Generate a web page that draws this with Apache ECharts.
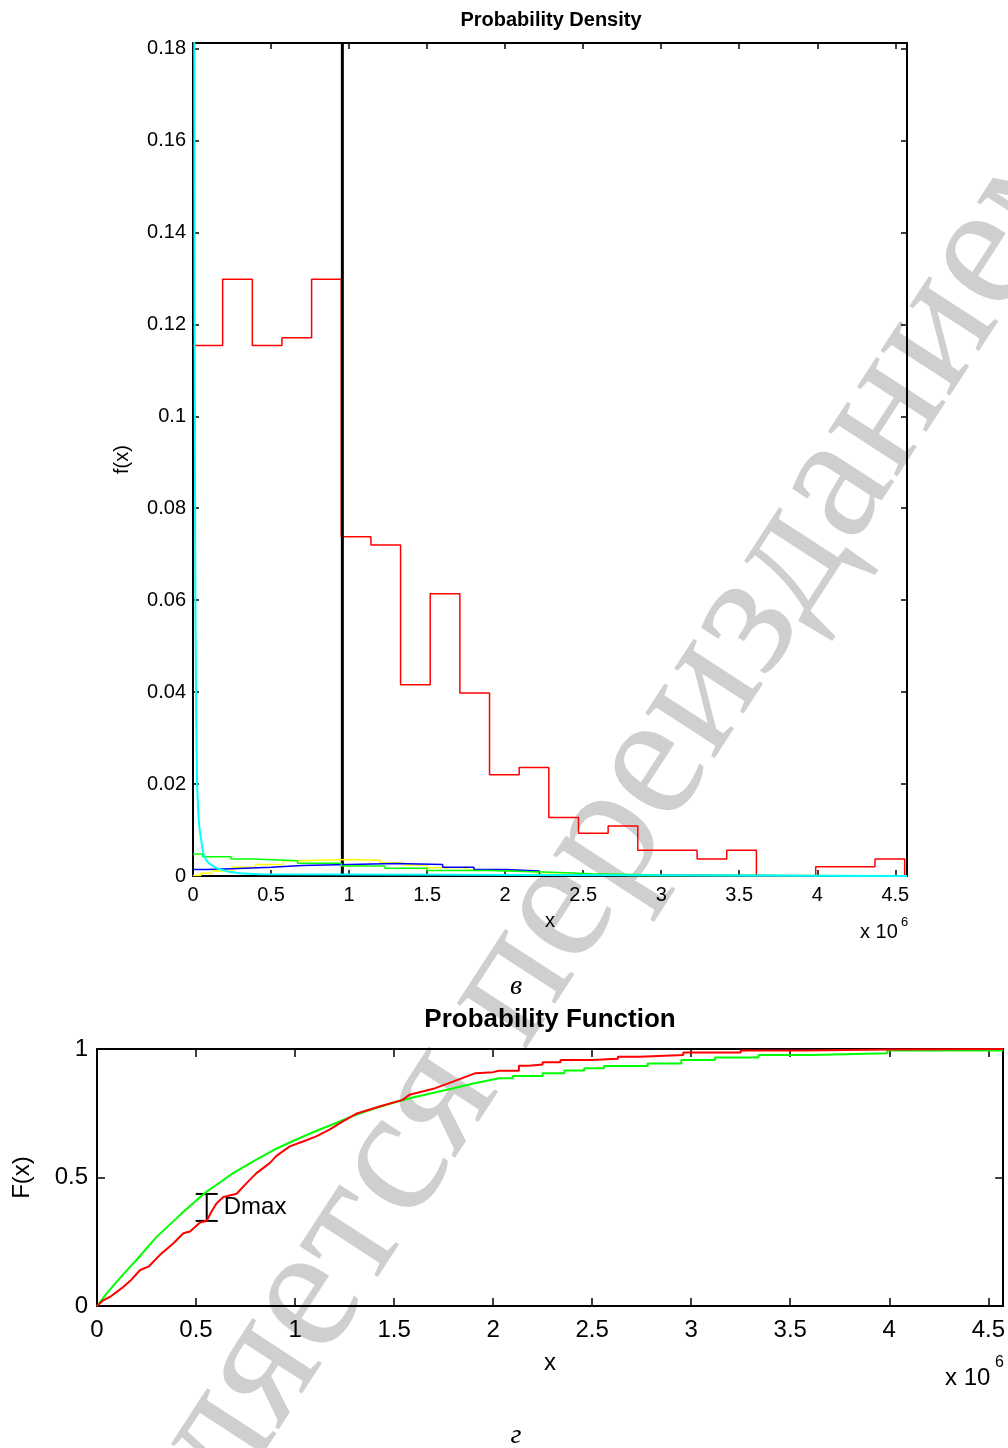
<!DOCTYPE html>
<html>
<head>
<meta charset="utf-8">
<script src="https://cdn.jsdelivr.net/npm/echarts@6/dist/echarts.min.js"></script>
<style>
  html, body { margin: 0; padding: 0; background: #fff; }
  #chart { width: 1008px; height: 1448px; }
</style>
</head>
<body>
<div id="chart"></div>
<script>
// x values are in units of 10^6 (as on the axes)
var XMAX = 4.575;

// --- top panel: histogram of the sample (relative frequency per bin)
var binEdges = [0, 0.19, 0.38, 0.57, 0.76, 0.95, 1.14, 1.33, 1.52, 1.71, 1.90, 2.09, 2.28,
  2.47, 2.66, 2.85, 3.04, 3.23, 3.42, 3.61, 3.80, 3.99, 4.18, 4.37, 4.56];
var binHeights = [0.1154, 0.1298, 0.1154, 0.1171, 0.1298, 0.0738, 0.0720, 0.0416, 0.0614,
  0.0398, 0.0220, 0.0236, 0.0127, 0.0093, 0.0109, 0.0056, 0.0056, 0.0037, 0.0056, 0, 0,
  0.0020, 0.0020, 0.0037];
var meanX = 0.957;

// fitted densities (scaled)
var cyanX = [0, 0.006, 0.010, 0.015, 0.020, 0.026, 0.035, 0.043, 0.065, 0.080, 0.100, 0.150, 0.220, 0.300, 0.430, 0.440, XMAX];
var cyanY = [0.9, 0.25, 0.12, 0.06, 0.036, 0.020, 0.013, 0.010, 0.005, 0.0037, 0.0028, 0.0017, 0.0010, 0.0006, 0.0004, 0, 0];

var greenX = [0, 0.062, 0.244, 0.39, 0.67, 0.95, 1.23, 1.50, 1.89, 2.30, 2.55, 3.00, XMAX];
var greenY = [0.0048, 0.0042, 0.0037, 0.0033, 0.0028, 0.0022, 0.0017, 0.0012, 0.0008, 0.0005, 0.0002, 0, 0];

var yellowX = [0, 0.05, 0.12, 0.25, 0.40, 0.58, 0.70, 0.98, 1.20, 1.35, 1.50, 1.75, 1.95, 2.20, 2.50, 2.80, XMAX];
var yellowY = [0.0001, 0.0006, 0.0011, 0.0019, 0.0025, 0.0033, 0.0036, 0.0034, 0.0029, 0.0024, 0.0018, 0.0013, 0.0009, 0.0004, 0.0001, 0, 0];

var blueX = [0, 0.08, 0.25, 0.50, 0.70, 1.30, 1.60, 1.80, 2.00, 2.22, 2.40, XMAX];
var blueY = [0.0014, 0.0016, 0.0019, 0.0023, 0.0027, 0.0025, 0.0019, 0.0014, 0.0011, 0.0002, 0, 0];

// --- bottom panel: empirical CDF (red) and fitted CDF (green)
// body of the curves (dense, drawn as polylines)
var ecdfX = [0, 0.033, 0.067, 0.10, 0.134, 0.168, 0.218, 0.26, 0.318, 0.386, 0.436, 0.47, 0.52,
  0.553, 0.58, 0.604, 0.638, 0.705, 0.755, 0.805, 0.872, 0.906, 0.973, 1.04, 1.107, 1.174,
  1.241, 1.308, 1.426, 1.543, 1.577, 1.694, 1.777, 1.911, 2.00, 2.03];
var ecdfY = [0, 0.023, 0.036, 0.055, 0.075, 0.098, 0.14, 0.153, 0.199, 0.244, 0.283, 0.29, 0.325,
  0.331, 0.37, 0.40, 0.424, 0.437, 0.478, 0.517, 0.556, 0.584, 0.621, 0.64, 0.66, 0.686,
  0.718, 0.748, 0.776, 0.802, 0.822, 0.844, 0.867, 0.906, 0.91, 0.915];
// tail of the curves (sparse, drawn as steps)
var ecdfTailX = [2.03, 2.13, 2.18, 2.25, 2.34, 2.50, 2.63, 2.74, 2.96, 3.25, 3.57, 4.00, XMAX];
var ecdfTailY = [0.915, 0.935, 0.94, 0.948, 0.957, 0.962, 0.970, 0.977, 0.986, 0.994, 0.998, 1.0, 1.0];

var fitX = [0, 0.05, 0.10, 0.168, 0.20, 0.302, 0.40, 0.436, 0.50, 0.553, 0.60, 0.687, 0.80, 0.90,
  1.00, 1.10, 1.20, 1.30, 1.40, 1.50, 1.60, 1.70, 1.80, 1.90, 2.03];
var fitY = [0, 0.05, 0.095, 0.153, 0.18, 0.27, 0.34, 0.367, 0.41, 0.445, 0.47, 0.517, 0.568, 0.61,
  0.646, 0.679, 0.71, 0.742, 0.768, 0.792, 0.812, 0.83, 0.847, 0.866, 0.886];
var fitTailX = [2.03, 2.10, 2.25, 2.36, 2.46, 2.56, 2.78, 2.95, 3.12, 3.34, 3.61, 3.99, XMAX];
var fitTailY = [0.886, 0.895, 0.906, 0.916, 0.925, 0.934, 0.944, 0.957, 0.967, 0.977, 0.983, 0.994, 0.996];

// Kolmogorov statistic marker
var dmaxX = 0.554;
var dmaxLo = 0.331;
var dmaxHi = 0.436;

var FONT = "'Liberation Sans', Arial, Helvetica, sans-serif";

function zip(xs, ys) {
  return xs.map(function (x, i) { return [x, ys[i]]; });
}
function tickFmt(step, digits) {
  return function (v) {
    var k = v / step;
    if (Math.abs(k - Math.round(k)) > 1e-6) return '';
    return String(+v.toFixed(digits));
  };
}

var histData = binHeights.map(function (h, i) { return [binEdges[i], h]; });
histData.push([binEdges[binEdges.length - 1], 0]);

function axis(o) {
  var fs = o.fontSize;
  return {
    gridIndex: o.grid,
    type: 'value',
    position: o.position,
    min: o.min, max: o.max, interval: o.interval,
    axisLine: { show: true, onZero: false, lineStyle: { color: '#000', width: 2 } },
    axisTick: { show: true, inside: true, length: o.tick, lineStyle: { color: '#000', width: 1.5 } },
    axisLabel: {
      show: !o.mirror, color: '#000', fontSize: fs, fontFamily: FONT, margin: o.margin,
      formatter: tickFmt(o.interval, o.digits)
    },
    splitLine: { show: false },
    name: o.name || '',
    nameLocation: 'middle',
    nameGap: o.nameGap,
    nameTextStyle: { color: '#000', fontSize: fs, fontFamily: FONT }
  };
}

function line(xi, yi, color, width, data, step) {
  return {
    type: 'line', xAxisIndex: xi, yAxisIndex: yi, step: step || false, symbol: 'none',
    lineStyle: { color: color, width: width }, data: data
  };
}

var chart = echarts.init(document.getElementById('chart'));

var option = {
  backgroundColor: '#fff',
  animation: false,
  grid: [
    { left: 193, right: 101, top: 43, bottom: 572 },
    { left: 97, right: 3, top: 1049, bottom: 142 }
  ],
  xAxis: [
    axis({ grid: 0, position: 'bottom', min: 0, max: XMAX, interval: 0.5, digits: 1, fontSize: 20, tick: 6, margin: 9, name: 'x', nameGap: 35 }),
    axis({ grid: 0, position: 'top', min: 0, max: XMAX, interval: 0.5, digits: 1, fontSize: 20, tick: 6, mirror: true }),
    axis({ grid: 1, position: 'bottom', min: 0, max: XMAX, interval: 0.5, digits: 1, fontSize: 24, tick: 8, margin: 12, name: 'x', nameGap: 45 }),
    axis({ grid: 1, position: 'top', min: 0, max: XMAX, interval: 0.5, digits: 1, fontSize: 24, tick: 8, mirror: true })
  ],
  yAxis: [
    axis({ grid: 0, position: 'left', min: 0, max: 0.1812, interval: 0.02, digits: 2, fontSize: 20, tick: 6, margin: 7, name: 'f(x)', nameGap: 61 }),
    axis({ grid: 0, position: 'right', min: 0, max: 0.1812, interval: 0.02, digits: 2, fontSize: 20, tick: 6, mirror: true }),
    axis({ grid: 1, position: 'left', min: 0, max: 1, interval: 0.5, digits: 1, fontSize: 24, tick: 8, margin: 9, name: 'F(x)', nameGap: 63 }),
    axis({ grid: 1, position: 'right', min: 0, max: 1, interval: 0.5, digits: 1, fontSize: 24, tick: 8, mirror: true })
  ],
  series: [
    line(0, 0, '#ff0000', 1.5, histData, 'end'),
    line(0, 0, '#000000', 3, [[meanX, 0], [meanX, 0.1812]]),
    line(0, 0, '#ffff00', 1.5, zip(yellowX, yellowY), 'end'),
    line(0, 0, '#0000ff', 1.5, zip(blueX, blueY), 'end'),
    line(0, 0, '#00ff00', 1.5, zip(greenX, greenY), 'end'),
    line(0, 0, '#00ffff', 2, zip(cyanX, cyanY)),
    line(2, 2, '#00ff00', 2, zip(fitX, fitY)),
    line(2, 2, '#00ff00', 2, zip(fitTailX, fitTailY), 'end'),
    line(2, 2, '#ff0000', 2, zip(ecdfX, ecdfY)),
    line(2, 2, '#ff0000', 2, zip(ecdfTailX, ecdfTailY), 'end'),
    {
      type: 'custom', xAxisIndex: 2, yAxisIndex: 2,
      data: [[dmaxX, dmaxLo, dmaxHi]],
      renderItem: function (params, api) {
        var lo = api.coord([api.value(0), api.value(1)]);
        var hi = api.coord([api.value(0), api.value(2)]);
        var st = { stroke: '#000', lineWidth: 2 };
        return {
          type: 'group',
          children: [
            { type: 'line', shape: { x1: lo[0], y1: lo[1], x2: hi[0], y2: hi[1] }, style: st },
            { type: 'line', shape: { x1: lo[0] - 11, y1: lo[1], x2: lo[0] + 11, y2: lo[1] }, style: st },
            { type: 'line', shape: { x1: hi[0] - 11, y1: hi[1], x2: hi[0] + 11, y2: hi[1] }, style: st },
            {
              type: 'text', x: lo[0] + 17, y: (lo[1] + hi[1]) / 2,
              style: { text: 'Dmax', fill: '#000', font: '24px ' + FONT, textVerticalAlign: 'middle' }
            }
          ]
        };
      }
    }
  ],
  graphic: [
    {
      type: 'text', x: 100, y: 1618, rotation: 0.995, z: -10, silent: true,
      style: { text: 'является переизданием', fill: '#cfcfcf', font: '180px "Liberation Serif", "DejaVu Serif", serif', textVerticalAlign: 'middle' }
    },
    { type: 'text', x: 551, y: 20, style: { text: 'Probability Density', fill: '#000', font: 'bold 20px ' + FONT, textAlign: 'center', textVerticalAlign: 'middle' } },
    { type: 'text', x: 550, y: 1020, style: { text: 'Probability Function', fill: '#000', font: 'bold 26px ' + FONT, textAlign: 'center', textVerticalAlign: 'middle' } },
    { type: 'text', x: 860, y: 932, style: { text: 'x 10', fill: '#000', font: '20px ' + FONT, textVerticalAlign: 'middle' } },
    { type: 'text', x: 901, y: 922, style: { text: '6', fill: '#000', font: '13px ' + FONT, textVerticalAlign: 'middle' } },
    { type: 'text', x: 945, y: 1378, style: { text: 'x 10', fill: '#000', font: '24px ' + FONT, textVerticalAlign: 'middle' } },
    { type: 'text', x: 995, y: 1363, style: { text: '6', fill: '#000', font: '16px ' + FONT, textVerticalAlign: 'middle' } },
    { type: 'text', x: 516, y: 987, style: { text: 'в', fill: '#000', font: 'italic 28px "Liberation Serif", serif', textAlign: 'center', textVerticalAlign: 'middle' } },
    { type: 'text', x: 516, y: 1436, style: { text: 'г', fill: '#000', font: 'italic 28px "Liberation Serif", serif', textAlign: 'center', textVerticalAlign: 'middle' } }
  ]
};

option && chart.setOption(option);
</script>
</body>
</html>
